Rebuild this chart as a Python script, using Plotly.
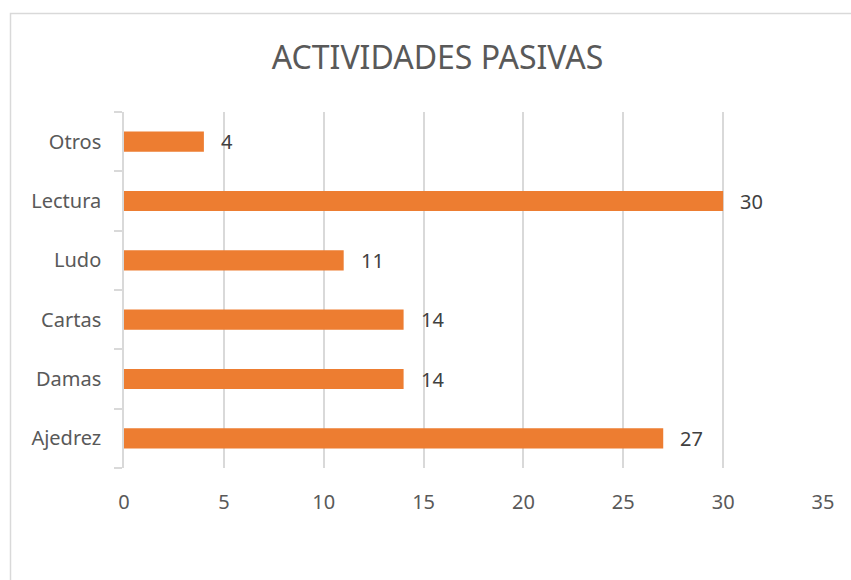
import plotly.graph_objects as go

# datos
actividades = ["Ajedrez", "Damas", "Cartas", "Ludo", "Lectura", "Otros"]
cantidades = [27, 14, 14, 11, 30, 4]
x_ticks = [0, 5, 10, 15, 20, 25, 30, 35]

naranja = "#ED7D31"
gris_txt = "#595959"
gris_linea = "#D9D9D9"

fig = go.Figure()

fig.add_trace(go.Bar(
    x=cantidades, y=actividades,
    orientation="h",
    marker=dict(color=naranja, line=dict(width=0)),
    hoverinfo="x+y",
))

# etiquetas de datos a la derecha de cada barra
for act, val in zip(actividades, cantidades):
    fig.add_annotation(
        x=val, y=act, text=str(val),
        xanchor="left", yanchor="middle", xshift=15,
        showarrow=False,
        font=dict(size=20, color="#404040", family="Noto Sans"),
    )

# borde del área del gráfico (se sale por la derecha y abajo)
fig.add_shape(
    type="rect", xref="paper", yref="paper",
    x0=(10.5 - 124) / 699, x1=1.5,
    y0=-1.0, y1=(468 - 13.5) / 356,
    line=dict(color=gris_linea, width=1.5),
    fillcolor="rgba(0,0,0,0)",
    layer="below",
)

fig.update_layout(
    width=851, height=580,
    paper_bgcolor="white", plot_bgcolor="white",
    margin=dict(l=124, r=28, t=112, b=112),
    bargap=0.66,
    showlegend=False,
    font=dict(family="Noto Sans", color=gris_txt, size=20),
    title=dict(
        text="ACTIVIDADES PASIVAS",
        x=(437.5 - 124) / 699, xref="paper", xanchor="center",
        y=1 - 58 / 580, yref="container", yanchor="middle",
        font=dict(size=32, color=gris_txt, family="Noto Sans"),
    ),
    xaxis=dict(
        range=[0, 35], tickvals=x_ticks,
        showgrid=True, gridcolor=gris_linea, gridwidth=1.5,
        zeroline=False, showline=False,
        ticks="outside", ticklen=16, tickcolor="rgba(0,0,0,0)",
        tickfont=dict(size=20, color=gris_txt),
    ),
    yaxis=dict(
        categoryorder="array", categoryarray=actividades,
        showgrid=False, zeroline=False,
        showline=True, linecolor=gris_linea, linewidth=1.5,
        ticks="outside", tickson="boundaries", ticklen=8,
        tickcolor=gris_linea, tickwidth=1.5,
        ticklabelstandoff=17,
        tickfont=dict(size=20, color=gris_txt),
    ),
)

# quitar el margen por defecto del body para que la figura empiece en (0, 0)
fig.write_html(
    "out.html",
    config={"displayModeBar": False},
    post_script="document.body.style.margin='0';",
)
